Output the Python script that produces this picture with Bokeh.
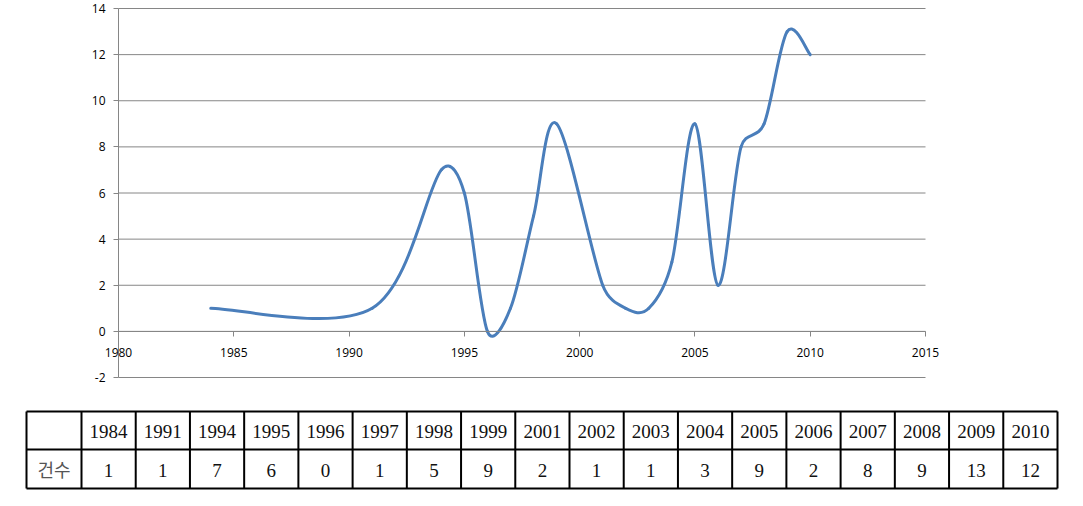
import math
from bokeh.plotting import figure
from bokeh.models import Range1d, FixedTicker, ColumnDataSource, LabelSet, PrintfTickFormatter
from bokeh.core.properties import value
from bokeh.embed import file_html
from bokeh.resources import INLINE

# ---- data ----
years = [1984, 1991, 1994, 1995, 1996, 1997, 1998, 1999, 2001, 2002,
         2003, 2004, 2005, 2006, 2007, 2008, 2009, 2010]
counts = [1, 1, 7, 6, 0, 1, 5, 9, 2, 1, 1, 3, 9, 2, 8, 9, 13, 12]
x_ticks = [1980, 1985, 1990, 1995, 2000, 2005, 2010, 2015]
y_ticks = [-2, 0, 2, 4, 6, 8, 10, 12, 14]
row_label = "건수"

LINE_COLOR = "#4A7EBB"
GRID_COLOR = "#868686"
AXIS_FONT = "Open Sans"

# layout (pixels, page coordinates)
FIG_W, FIG_H = 1075, 408
AXIS_LEFT_PX, AXIS_RIGHT_PX = 118, 925
AXIS_TOP_PX, AXIS_BOTTOM_PX = 8, 377
FRAME_LEFT_PX, FRAME_RIGHT_PX = 84, 960
FRAME_TOP_PX, FRAME_BOTTOM_PX = 0, 392
px_x = (AXIS_RIGHT_PX - AXIS_LEFT_PX) / (x_ticks[-1] - x_ticks[0])
px_y = (AXIS_BOTTOM_PX - AXIS_TOP_PX) / (y_ticks[-1] - y_ticks[0])
x_start = x_ticks[0] - (AXIS_LEFT_PX - FRAME_LEFT_PX) / px_x
x_end = x_ticks[-1] + (FRAME_RIGHT_PX - AXIS_RIGHT_PX) / px_x
y_start = y_ticks[0] - (FRAME_BOTTOM_PX - AXIS_BOTTOM_PX) / px_y
y_end = y_ticks[-1] + (AXIS_TOP_PX - FRAME_TOP_PX) / px_y


def smooth_segments(xs, ys, f=1.0 / 6.0):
    """Bezier control points mimicking Excel's smoothed line."""
    n = len(xs)

    def dist(a, b):
        return math.hypot(xs[a] - xs[b], ys[a] - ys[b])

    out = {key: [] for key in ("x0", "y0", "x1", "y1", "cx0", "cy0", "cx1", "cy1")}
    for i in range(n - 1):
        im = i - 1 if i > 0 else i
        ip = i + 2 if i + 2 < n else i + 1
        d12 = dist(i, i + 1)
        d02 = dist(im, i + 1)
        d13 = dist(i, ip)
        f1 = f
        if d02 * f > d12 / 2 and d02 > 0:
            f1 = d12 / (2 * d02)
        f2 = f
        if d13 * f > d12 / 2 and d13 > 0:
            f2 = d12 / (2 * d13)
        out["x0"].append(xs[i]); out["y0"].append(ys[i])
        out["x1"].append(xs[i + 1]); out["y1"].append(ys[i + 1])
        out["cx0"].append(xs[i] + (xs[i + 1] - xs[im]) * f1)
        out["cy0"].append(ys[i] + (ys[i + 1] - ys[im]) * f1)
        out["cx1"].append(xs[i + 1] - (xs[ip] - xs[i]) * f2)
        out["cy1"].append(ys[i + 1] - (ys[ip] - ys[i]) * f2)
    return out


# ---- chart ----
p = figure(width=FIG_W, height=FIG_H,
           x_range=Range1d(x_start, x_end),
           y_range=Range1d(y_start, y_end),
           output_backend="svg", toolbar_location=None,
           min_border_left=FRAME_LEFT_PX, min_border_right=FIG_W - FRAME_RIGHT_PX,
           min_border_top=FRAME_TOP_PX, min_border_bottom=FIG_H - FRAME_BOTTOM_PX)
p.outline_line_color = None
p.grid.visible = False

# horizontal gridlines spanning exactly the x axis extent
p.segment(x0=[x_ticks[0]] * len(y_ticks), x1=[x_ticks[-1]] * len(y_ticks),
          y0=y_ticks, y1=y_ticks, line_color=GRID_COLOR, line_width=1)

p.xaxis.ticker = FixedTicker(ticks=x_ticks)
p.xaxis.fixed_location = 0
p.xaxis.bounds = (x_ticks[0], x_ticks[-1])
p.xaxis.major_label_text_color = None
p.yaxis.ticker = FixedTicker(ticks=y_ticks)
p.yaxis.fixed_location = x_ticks[0]
p.yaxis.bounds = (y_ticks[0], y_ticks[-1])
p.yaxis.formatter = PrintfTickFormatter(format="%d")
p.yaxis.major_label_text_color = "#000000"
for ax in (p.xaxis, p.yaxis):
    ax.axis_line_color = GRID_COLOR
    ax.major_tick_line_color = GRID_COLOR
    ax.major_tick_in = 0
    ax.major_tick_out = 5
    ax.minor_tick_line_color = None
    ax.major_label_text_font = AXIS_FONT
    ax.major_label_text_font_size = "12px"
p.yaxis.major_label_standoff = 8

xsrc = ColumnDataSource(dict(x=x_ticks, y=[0] * len(x_ticks), t=[str(v) for v in x_ticks]))
p.add_layout(LabelSet(x="x", y="y", text="t", source=xsrc, y_offset=-21,
                      text_align="center", text_baseline="middle",
                      text_font=value(AXIS_FONT), text_font_size="12px",
                      text_color="#000000"))

seg = smooth_segments(years, counts)
p.bezier(x0=seg["x0"], y0=seg["y0"], x1=seg["x1"], y1=seg["y1"],
         cx0=seg["cx0"], cy0=seg["cy0"], cx1=seg["cx1"], cy1=seg["cy1"],
         line_color=LINE_COLOR, line_width=3, line_cap="round")

# ---- table ----
T_LEFT, T_FIRST, T_RIGHT = 26, 81, 1057
T_TOP, T_MID, T_BOT = 411, 449, 488
ncol = len(years)
cw = (T_RIGHT - T_FIRST) / ncol

t = figure(width=FIG_W, height=98, x_range=Range1d(0, FIG_W), y_range=Range1d(506, 408),
           output_backend="svg", toolbar_location=None,
           min_border=0, min_border_left=0, min_border_right=0,
           min_border_top=0, min_border_bottom=0)
t.axis.visible = False
t.grid.visible = False
t.outline_line_color = None

hy = [T_TOP, T_MID, T_BOT]
t.segment(x0=[T_LEFT] * 3, y0=hy, x1=[T_RIGHT] * 3, y1=hy, line_color="black", line_width=2)
vx = [T_LEFT, T_FIRST] + [T_FIRST + cw * (i + 1) for i in range(ncol)]
t.segment(x0=vx, y0=[T_TOP] * len(vx), x1=vx, y1=[T_BOT] * len(vx),
          line_color="black", line_width=2)

cx = [T_FIRST + cw * (i + 0.5) for i in range(ncol)]
t.text(x=cx, y=[(T_TOP + T_MID) / 2 + 1] * ncol, text=[str(y) for y in years],
       text_font=value("Liberation Serif"), text_font_size="19px",
       text_align="center", text_baseline="middle", text_color="#111111")
t.text(x=cx, y=[(T_MID + T_BOT) / 2 + 1] * ncol, text=[str(c) for c in counts],
       text_font=value("Liberation Serif"), text_font_size="19px",
       text_align="center", text_baseline="middle", text_color="#111111")
t.text(x=[(T_LEFT + T_FIRST) / 2], y=[(T_MID + T_BOT) / 2], text=[row_label],
       text_font=value("Noto Sans CJK KR"), text_font_size="18px",
       text_align="center", text_baseline="middle", text_color="#555555")

open("out.html", "w").write(file_html([p, t], INLINE))
